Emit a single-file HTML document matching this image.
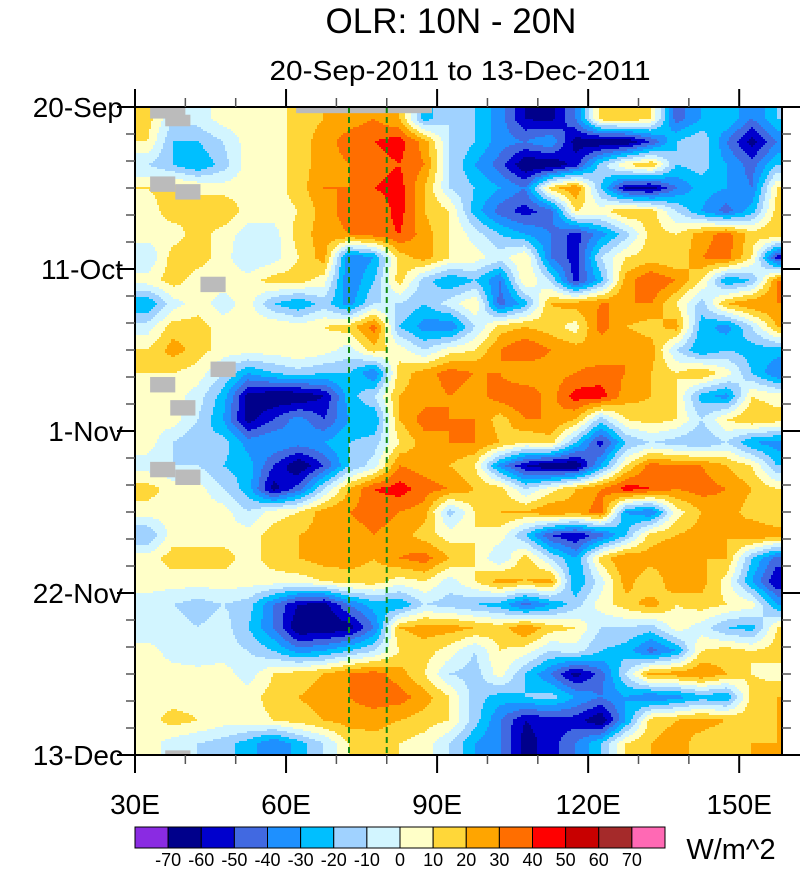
<!DOCTYPE html>
<html><head><meta charset="utf-8">
<style>
html,body{margin:0;padding:0;background:#fff;}
svg text{font-family:"Liberation Sans",Arial,sans-serif;}
</style></head>
<body>
<svg id="chart" width="801" height="869" xmlns="http://www.w3.org/2000/svg">
<text x="451" y="33" font-size="35" text-anchor="middle">OLR: 10N - 20N</text>
<text x="460" y="80" font-size="28" text-anchor="middle" textLength="381" lengthAdjust="spacingAndGlyphs">20-Sep-2011 to 13-Dec-2011</text>
<g id="cells" shape-rendering="crispEdges"></g>
<g id="overlay"></g>
<g id="axes"></g>
<g id="cbar"></g>
</svg>
<script>
const lonStart = 30, lonEnd = 158.5;
const dayCount = 84;
const lonStep = 5, dayStep = 3;
const timeLabels = ["20-Sep","11-Oct","1-Nov","22-Nov","13-Dec"];
const timeLabelDays = [0,21,42,63,84];
const lonTicks = [30,60,90,120,150];
const lonTickLabels = ["30E","60E","90E","120E","150E"];
const levels = [-70,-60,-50,-40,-30,-20,-10,0,10,20,30,40,50,60,70];
const colors = ["#8a2be2","#00008b","#0000cd","#4169e1","#1e90ff","#00bfff","#a0d2ff","#d2f5ff","#ffffc8","#ffd739","#ffa500","#ff6e00","#ff0000","#c80000","#a52a2a","#ff69b4"];
const missingCells = [[33,0,7,1.5],[36,1,5,1.5],[33,9,5,2],[38,10,5,2],[43,22,5,2],[45,33,5,2],[33,35,5,2],[37,38,5,2],[33,46,5,2],[38,47,5,2],[36,83.4,5,0.6],[62,0,27,0.8]];
const refLons = [72.5, 80];
const grid = [
[15,-10,-5,5,5,5,15,20,25,30, 20,-25,-10,-20,-35,-60,-65,-40,15,20,10,-45,-30,-20,-40,-20],
[10,-20,-20,-10,5,5,15,25,35,40, 45,25,-10,-20,-35,-40,-30,-65,-70,-70,-50,-20,-10,-40,-65,-40],
[-10,-20,-30,-15,5,5,15,25,30,35, 40,30,-10,-30,-45,-70,-70,-55,-15,10,20,-20,-15,-30,-45,-20],
[10,15,10,5,5,5,15,30,30,40, 45,20,-10,-20,-30,-40,15,30,-20,-60,-65,-40,-25,-30,-40,10],
[5,15,10,20,5,5,10,25,35,30, 45,20,10,-25,-45,-55,-45,10,5,20,15,-10,-30,-45,-25,15],
[5,5,15,5,-5,-5,15,25,30,35, 40,25,10,-5,-20,-30,-40,-55,-35,-15,15,10,25,35,15,20],
[-10,15,15,5,-10,-5,10,25,-40,-30, 15,25,10,5,-5,10,-40,-55,-10,10,15,10,30,35,10,-55],
[5,15,5,5,5,15,15,5,-40,-20, 15,-15,-30,-20,-40,10,-10,-55,-25,25,40,30,10,-30,-20,30],
[-30,-5,5,-5,5,-20,-30,-15,-35,-10, -10,-20,-5,10,-45,-25,20,25,30,30,30,10,-15,20,30,30],
[-5,15,15,5,5,10,5,10,15,35, -20,-35,-40,-10,15,20,15,5,35,20,15,25,-25,-35,-10,20],
[10,25,15,5,5,5,10,5,-5,15, 5,-10,5,10,30,40,30,25,20,30,25,-10,-30,-20,-25,-25],
[10,10,5,-10,-30,-20,-15,-20,-20,-40, 15,25,35,30,30,20,25,30,35,30,20,10,20,5,-20,-40],
[5,5,-5,-25,-65,-70,-70,-60,-25,-10, 20,25,30,25,35,40,25,45,45,25,20,10,-25,-35,10,5],
[5,5,-10,-30,-65,-50,-35,-50,-30,-30, 20,35,30,30,15,30,30,20,-15,10,15,10,-10,10,20,15],
[5,-10,-20,-15,-35,-30,-35,-30,-20,-15, 10,25,30,30,20,10,15,-20,-55,-20,-10,-15,-20,-10,-30,-35],
[-5,-10,-10,-20,-25,-50,-70,-50,-20,-5, 30,25,20,10,-35,-60,-70,-70,-30,10,35,30,30,20,10,-20],
[15,5,5,-10,-25,-65,-45,-10,20,40, 45,35,30,20,15,-10,5,20,30,45,40,30,35,30,20,10],
[5,5,5,5,-10,5,10,25,30,35, 30,25,-15,10,20,20,30,25,35,-30,-40,5,20,25,15,10],
[-20,5,5,5,5,15,20,25,25,30, 25,15,5,10,5,-20,-50,-60,-45,-20,15,20,25,20,30,25],
[5,15,15,15,5,15,20,25,25,20, 30,35,20,10,-10,15,-10,-30,15,30,25,30,20,20,-20,-45],
[5,5,5,5,5,5,5,10,15,15, 5,10,-5,10,25,20,25,-30,-5,25,10,30,25,5,-30,-60],
[-5,-10,-15,-10,-15,-40,-60,-65,-40,-25, -30,-10,-15,-20,-25,-45,-30,-15,5,15,25,10,15,10,5,-30],
[-10,-5,-10,-5,-20,-40,-70,-70,-65,-40, 20,25,25,20,15,30,15,10,-10,-10,-15,5,-5,-20,-25,10],
[5,-5,-10,-5,-10,-20,-35,-30,-20,-10, 10,15,5,-10,10,5,-10,-5,-20,-25,-45,-30,10,15,10,15],
[5,5,5,5,-5,10,15,20,30,35, 25,10,-10,-15,5,-20,-40,-65,-45,-10,25,25,30,20,10,5],
[5,5,5,5,5,15,20,25,30,35, 35,25,10,-15,-25,-20,-15,-30,-40,-30,-40,-35,-25,-30,15,20],
[5,15,10,5,5,10,15,20,25,25, 20,15,10,-15,-40,-60,-55,-55,-70,-30,15,20,25,20,15,20],
[5,-5,-10,-15,-25,-40,-25,-10,10,15, 10,5,-10,-30,-40,-65,-55,-40,-20,10,20,25,15,10,20,20]
];

const L=135,R=782,T=107,B=755;
const NS="http://www.w3.org/2000/svg";
const xs = lon => L + (lon-lonStart)/(lonEnd-lonStart)*(R-L);
const ys = d => T + d/dayCount*(B-T);
function colorFor(v){let i=0;while(i<levels.length && v>=levels[i]) i++;return colors[i];}
function mk(tag,attrs,parent){const e=document.createElementNS(NS,tag);for(const k in attrs)e.setAttribute(k,attrs[k]);parent.appendChild(e);return e;}

const cells=document.getElementById('cells');
const nr=grid.length,nc=grid[0].length;
function sample(lon,day){
  let fc=(lon-lonStart)/lonStep-0.5, fr=day/dayStep-0.5;
  fc=Math.max(0,Math.min(nc-1,fc)); fr=Math.max(0,Math.min(nr-1,fr));
  const c0=Math.floor(fc),r0=Math.floor(fr),c1=Math.min(nc-1,c0+1),r1=Math.min(nr-1,r0+1);
  const tx=fc-c0,ty=fr-r0;
  const a=grid[r0][c0]*(1-tx)+grid[r0][c1]*tx, b=grid[r1][c0]*(1-tx)+grid[r1][c1]*tx;
  return a*(1-ty)+b*ty;
}
function addRun(x0,x1,y,h,col){
  const e=mk('rect',{x:x0,y:y,width:x1-x0,height:h,fill:col},cells);
  
  
}
const step=2;
for(let py=T;py<B;py+=step){
  const h=Math.min(step,B-py);
  const day=(py+h/2-T)/(B-T)*dayCount;
  let runStart=L,runCol=null;
  for(let px=L;px<R;px+=step){
    const lon=lonStart+(px+step/2-L)/(R-L)*(lonEnd-lonStart);
    const col=colorFor(sample(lon,day));
    if(col!==runCol){
      if(runCol!==null) addRun(runStart,px,py,h,runCol);
      runStart=px;runCol=col;
    }
  }
  if(runCol!==null) addRun(runStart,R,py,h,runCol);
}
const ov=document.getElementById('overlay');
missingCells.forEach(m=>{
  const e=mk('rect',{x:xs(m[0]),y:ys(m[1]),width:xs(m[0]+m[2])-xs(m[0]),height:ys(m[1]+m[3])-ys(m[1]),fill:"#bbbbbb"},ov);
  
  
});
refLons.forEach(l=>{
  const e=mk('line',{x1:xs(l),x2:xs(l),y1:T,y2:B,stroke:"#138a13","stroke-width":2,"stroke-dasharray":"6,4"},ov);
  
  
});

const ax=document.getElementById('axes');
mk('rect',{x:L,y:T,width:R-L,height:B-T,fill:"none",stroke:"#000","stroke-width":2},ax);
timeLabelDays.forEach((d,i)=>{
  const y=ys(d);
  mk('line',{x1:L-18,x2:L,y1:y,y2:y,stroke:"#000","stroke-width":2},ax);
  mk('line',{x1:R,x2:R+18,y1:y,y2:y,stroke:"#000","stroke-width":2},ax);
  const t=mk('text',{x:L-12,y:y+10,"font-size":28,"text-anchor":"end"},ax);
  t.textContent=timeLabels[i];
  
  
});
for(let d=0;d<=dayCount;d+=3.5){
  if(timeLabelDays.includes(d))continue;
  const y=ys(d);
  mk('line',{x1:L-9,x2:L,y1:y,y2:y,stroke:"#555","stroke-width":1.5},ax);
  mk('line',{x1:R,x2:R+9,y1:y,y2:y,stroke:"#555","stroke-width":1.5},ax);
}
for(let l=30;l<=lonEnd;l+=10){
  const x=xs(l),maj=lonTicks.includes(l);
  const len=maj?18:9;
  mk('line',{x1:x,x2:x,y1:B,y2:B+len,stroke:maj?"#000":"#555","stroke-width":maj?2:1.5},ax);
  mk('line',{x1:x,x2:x,y1:T-len,y2:T,stroke:maj?"#000":"#555","stroke-width":maj?2:1.5},ax);
}
lonTicks.forEach((l,i)=>{
  const t=mk('text',{x:xs(l),y:814,"font-size":28,"text-anchor":"middle"},ax);
  t.textContent=lonTickLabels[i];
  
  
});

const cb=document.getElementById('cbar');
const cbx=135,cbw=(665-135)/16,cby=827,cbh=21;
colors.forEach((c,i)=>{
  const e=mk('rect',{x:cbx+i*cbw,y:cby,width:cbw,height:cbh,fill:c,stroke:"#000","stroke-width":1},cb);
  
  
});
levels.forEach((v,i)=>{
  const t=mk('text',{x:cbx+(i+1)*cbw,y:866,"font-size":18,"text-anchor":"middle"},cb);
  t.textContent=v;
  
  
});
const u=mk('text',{x:731,y:859,"font-size":29,"text-anchor":"middle"},cb);
u.textContent="W/m^2";


</script>
</body></html>
